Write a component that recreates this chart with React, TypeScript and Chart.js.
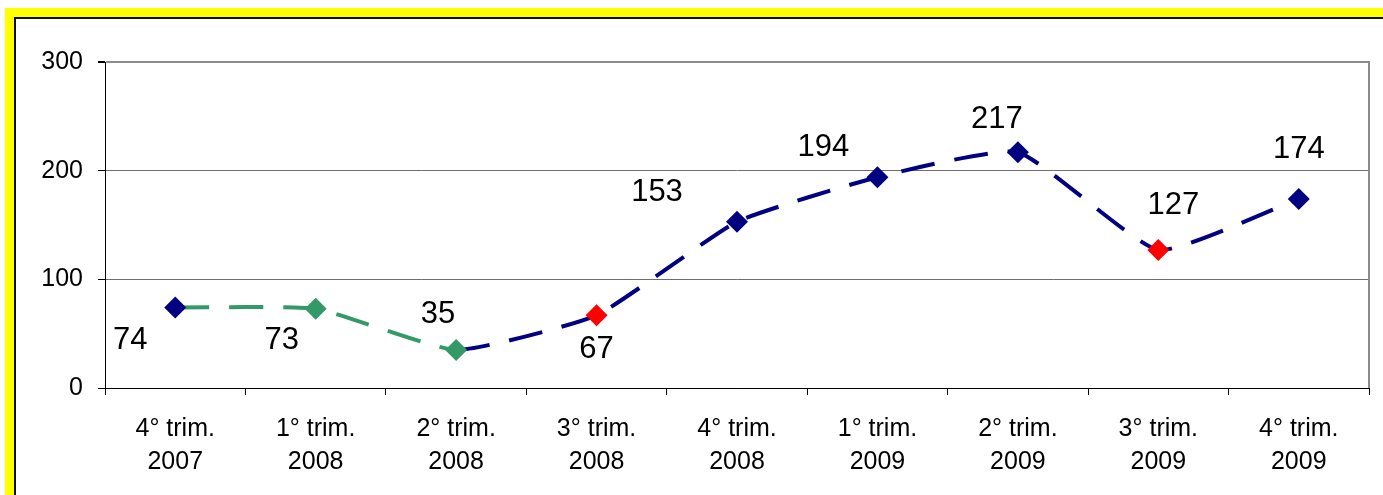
import React, { useEffect, useRef } from 'react';
import { Chart, registerables } from 'chart.js';

Chart.register(...registerables);

const categories: string[][] = [
  ['4° trim.', '2007'],
  ['1° trim.', '2008'],
  ['2° trim.', '2008'],
  ['3° trim.', '2008'],
  ['4° trim.', '2008'],
  ['1° trim.', '2009'],
  ['2° trim.', '2009'],
  ['3° trim.', '2009'],
  ['4° trim.', '2009'],
];
const values: number[] = [74, 73, 35, 67, 153, 194, 217, 127, 174];
const valueLabels: string[] = ['74', '73', '35', '67', '153', '194', '217', '127', '174'];
const yTicks: number[] = [0, 100, 200, 300];

const NAVY = '#000080';
const GREEN = '#339966';
const RED = '#FF0000';
const pointColors: string[] = [NAVY, GREEN, GREEN, RED, NAVY, NAVY, NAVY, RED, NAVY];
const labelOffsets: number[][] = [
  [-45, 33], [-34, 32], [-18, -36], [0, 34], [-80, -29], [-54, -30], [-21, -33], [15, -45], [0, -49],
];

const FONT = "'Liberation Sans', Arial, sans-serif";

const labelPlugin = {
  id: 'valueLabels',
  afterDatasetsDraw(chart: any) {
    const ctx = chart.ctx;
    const meta = chart.getDatasetMeta(0);
    ctx.save();
    ctx.font = `31px ${FONT}`;
    ctx.fillStyle = '#000';
    ctx.textAlign = 'center';
    ctx.textBaseline = 'middle';
    meta.data.forEach((pt: any, i: number) => {
      const o = labelOffsets[i];
      ctx.fillText(valueLabels[i], pt.x + o[0], pt.y + o[1]);
    });
    ctx.restore();
  },
};

const framePlugin = {
  id: 'frame',
  afterDraw(chart: any) {
    const { ctx, chartArea } = chart;
    ctx.save();
    ctx.strokeStyle = '#8c8c8c';
    ctx.lineWidth = 2;
    ctx.beginPath();
    ctx.moveTo(chartArea.right, chartArea.top - 1);
    ctx.lineTo(chartArea.right, chartArea.bottom);
    ctx.stroke();
    ctx.restore();
  },
};

export default function App() {
  const ref = useRef<HTMLCanvasElement | null>(null);

  useEffect(() => {
    document.body.style.margin = '0';
    document.body.style.overflow = 'hidden';
    const canvas = ref.current!;
    const chart = new Chart(canvas, {
      type: 'line',
      data: {
        labels: categories,
        datasets: [
          {
            data: values,
            borderColor: NAVY,
            borderWidth: 4,
            borderDash: [34, 20],
            tension: 0.15,
            fill: false,
            pointStyle: 'rectRot',
            pointRadius: 11,
            pointHoverRadius: 11,
            pointBackgroundColor: pointColors,
            pointBorderColor: pointColors,
            pointBorderWidth: 0,
            segment: {
              borderColor: (c: any) => (c.p0DataIndex < 2 ? GREEN : NAVY),
            },
          },
        ],
      },
      options: {
        responsive: false,
        animation: false,
        events: [],
        layout: { padding: { top: 62, right: 14, left: 0, bottom: 0 } },
        plugins: {
          legend: { display: false },
          tooltip: { enabled: false },
          title: { display: false },
        },
        scales: {
          x: {
            type: 'category',
            offset: true,
            afterFit: (s: any) => {
              s.height = 107;
            },
            border: { color: '#000', width: 1 },
            grid: {
              offset: true,
              drawOnChartArea: false,
              drawTicks: true,
              tickLength: 7,
              color: '#000',
              tickColor: '#000',
            },
            ticks: {
              color: '#000',
              font: { family: FONT, size: 25, lineHeight: 1.3 },
              maxRotation: 0,
              autoSkip: false,
              padding: 18,
            },
          },
          y: {
            min: 0,
            max: 300,
            afterFit: (s: any) => {
              s.width = 105;
            },
            afterBuildTicks: (s: any) => {
              s.ticks = yTicks.map((v) => ({ value: v }));
            },
            border: { color: '#000', width: 1 },
            grid: {
              color: (c: any) => (c.tick && c.tick.value === 0 ? '#000' : c.tick && c.tick.value === 300 ? '#8c8c8c' : '#6e6e6e'),
              lineWidth: (c: any) => (c.tick && c.tick.value === 300 ? 2 : 1),
              tickColor: '#000',
              tickLength: 7,
            },
            ticks: {
              color: '#000',
              font: { family: FONT, size: 25 },
              padding: 15,
            },
          },
        },
      },
      plugins: [labelPlugin, framePlugin],
    });
    return () => chart.destroy();
  }, []);

  return (
    <div
      style={{
        position: 'absolute',
        left: 0,
        top: 0,
        width: 1383,
        height: 495,
        background: '#fff',
        overflow: 'hidden',
      }}
    >
      <div
        style={{
          position: 'absolute',
          left: 5,
          top: 8,
          width: 2000,
          height: 1000,
          borderTop: '9px solid #ffff00',
          borderLeft: '9px solid #ffff00',
        }}
      >
        <div
          style={{
            width: '100%',
            height: '100%',
            borderTop: '2px solid #111',
            borderLeft: '2px solid #111',
          }}
        />
      </div>
      <canvas
        ref={ref}
        width={1383}
        height={495}
        style={{ position: 'absolute', left: 0, top: 0, width: 1383, height: 495 }}
      />
    </div>
  );
}
